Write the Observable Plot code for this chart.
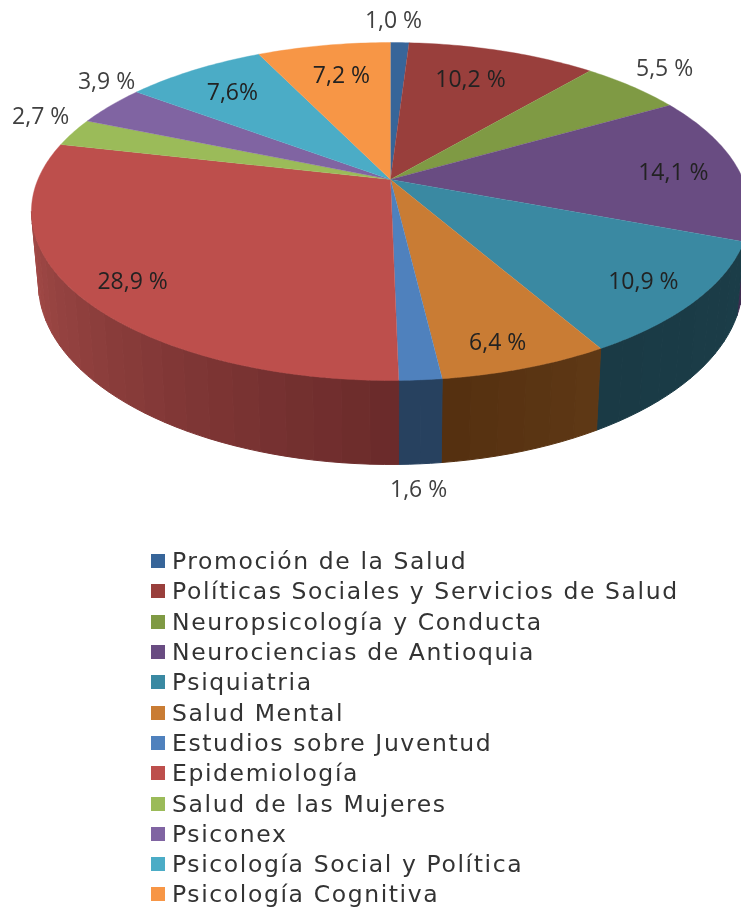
<!DOCTYPE html>
<html>
<head>
<meta charset="utf-8">
<script src="https://cdn.jsdelivr.net/npm/d3@7"></script>
<script src="https://cdn.jsdelivr.net/npm/@observablehq/plot@0.6"></script>
<style>
html,body{margin:0;padding:0;background:#fff;width:741px;height:909px;overflow:hidden}
#chart svg{display:block;background:#fff;filter:blur(0.5px)}
#legend{margin-top:16px;padding-left:151px;filter:blur(0.5px)}
.row{display:flex;align-items:center;height:30.3px;font-family:"DejaVu Sans",sans-serif;font-size:23.5px;letter-spacing:1.6px;color:#333;white-space:nowrap}
.sw{width:14px;height:14px;margin-right:7px;flex:none}
</style>
</head>
<body>
<div id="chart"></div>
<div id="legend"></div>
<script>
const categories = ["Promoción de la Salud","Políticas Sociales y Servicios de Salud","Neuropsicología y Conducta","Neurociencias de Antioquia","Psiquiatria","Salud Mental","Estudios sobre Juventud","Epidemiología","Salud de las Mujeres","Psiconex","Psicología Social y Política","Psicología Cognitiva"];
const shares = [1.0,10.2,5.5,14.1,10.9,6.4,1.6,28.9,2.7,3.9,7.6,7.2];
const labels = ["1,0 %","10,2 %","5,5 %","14,1 %","10,9 %","6,4 %","1,6 %","28,9 %","2,7 %","3,9 %","7,6%","7,2 %"];
const topColors = ["#376599","#993f3c","#7f9a44","#694c82","#3a89a2","#c97c34","#4f81bd","#bd4f4c","#9bbb59","#8064a2","#4bacc6","#f79646"];
const wallNear = ["#27415f","#6b2b2b","#4f6029","#3f2d50","#1a3a45","#553010","#27415f","#6b2b2b","#5f7236","#4d3c62","#2d6878","#955a2a"];
const wallFar  = ["#27415f","#8f3f3c","#4f6029","#4b3560","#1b3d48","#5e3815","#27415f","#a24a47","#5f7236","#4d3c62","#2d6878","#955a2a"];
const labelAngle = [0.5,20.3,48.8,86.9,131.1,163.1,177.6,229.4,291.3,306.8,320,347.7];
const labelRadius = [1.197,0.74,1.186,0.81,0.851,0.879,1.40,0.861,1.149,1.135,0.776,0.743];
const labelInside = [false,true,false,true,true,true,false,true,false,false,true,true];

const W = 741, H = 530;
const rad = d => d * Math.PI / 180;
// perspective view of the pie's circular faces
const top3d = {cx:390, cy:179, a:352.6, b:162.9, k:0.1893};
const base3d = {cx:390, cy:248.7, a:345.7, b:174.5, k:0.1893};
const project = (v, deg, f = 1) => {
  const s = Math.sin(rad(deg)), c = Math.cos(rad(deg)), w = 1 + v.k * f * c;
  return [v.cx + v.a * f * s / w, v.cy - v.b * f * c / w];
};
const horizon = [100.9, 259.1]; // angles of the visible wall silhouette

let acc = 0;
const slices = shares.map((s, i) => { const o = {i, from: acc * 3.6, to: (acc + s) * 3.6}; acc += s; return o; });

const facePts = [];
for (const sl of slices) {
  const c = topColors[sl.i];
  facePts.push({id: "t" + sl.i, x: top3d.cx, y: top3d.cy, c});
  const n = Math.ceil(sl.to - sl.from) + 1;
  for (let j = 0; j <= n; j++) {
    const [x, y] = project(top3d, sl.from + (sl.to - sl.from) * j / n);
    facePts.push({id: "t" + sl.i, x, y, c});
  }
}

const wallPts = [];
for (const sl of slices) {
  const a0 = Math.max(sl.from, horizon[0]), a1 = Math.min(sl.to, horizon[1]);
  if (a1 <= a0) continue;
  const strips = Math.max(1, Math.ceil((a1 - a0) / 4));
  const col = d3.interpolateRgb(wallNear[sl.i], wallFar[sl.i]);
  for (let j = 0; j < strips; j++) {
    const s0 = a0 + (a1 - a0) * j / strips, s1 = a0 + (a1 - a0) * (j + 1) / strips;
    const t = sl.to > 180 ? j / Math.max(1, strips - 1) : 1 - j / Math.max(1, strips - 1);
    const c = d3.color(col(t)).formatHex();
    const id = "w" + sl.i + "_" + j;
    const ring = [project(top3d, s0), project(top3d, (s0 + s1) / 2), project(top3d, s1),
                  project(base3d, s1), project(base3d, (s0 + s1) / 2), project(base3d, s0), project(top3d, s0)];
    ring.forEach(([x, y]) => wallPts.push({id, x, y, c}));
  }
}

const labelData = labels.map((t, i) => {
  const [x, y] = project(top3d, labelAngle[i], labelRadius[i]);
  return {t, x, y, inside: labelInside[i]};
});

const textBase = {x: "x", y: "y", text: "t", fontFamily: "'Open Sans',sans-serif", fontSize: 23, textAnchor: "middle", lineAnchor: "middle"};

const plot = Plot.plot({
  width: W, height: H, margin: 0, axis: null,
  x: {domain: [0, W], range: [0, W]},
  y: {domain: [H, 0], range: [H, 0]},
  color: {type: "identity"},
  marks: [
    Plot.line(wallPts, {x: "x", y: "y", z: "id", fill: "c", stroke: "c", strokeWidth: 1}),
    Plot.line(facePts, {x: "x", y: "y", z: "id", fill: "c", stroke: "c", strokeWidth: 0.4}),
    Plot.text(labelData.filter(d => d.inside), {...textBase, fill: "#222"}),
    Plot.text(labelData.filter(d => !d.inside), {...textBase, fill: "#404040"})
  ]
});
document.getElementById("chart").appendChild(plot);

const legend = document.getElementById("legend");
categories.forEach((name, i) => {
  const row = document.createElement("div"); row.className = "row";
  const sw = document.createElement("span"); sw.className = "sw"; sw.style.background = topColors[i];
  const tx = document.createElement("span"); tx.textContent = name;
  row.append(sw, tx); legend.appendChild(row);
});
</script>
</body>
</html>
